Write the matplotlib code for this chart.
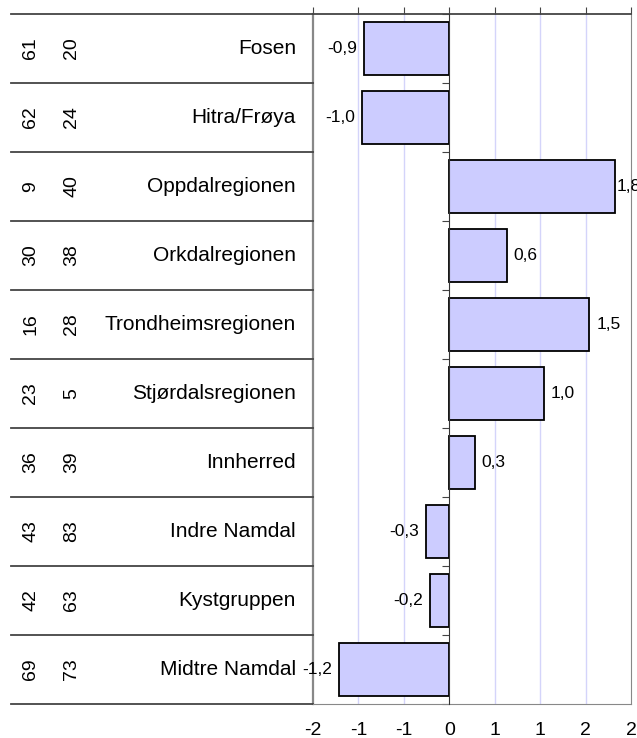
import matplotlib
matplotlib.use("Agg")
import matplotlib.pyplot as plt

plt.rcParams['font.family'] = ['Liberation Sans', 'DejaVu Sans']

# Data
regioner = ["Fosen", "Hitra/Frøya", "Oppdalregionen", "Orkdalregionen",
            "Trondheimsregionen", "Stjørdalsregionen", "Innherred",
            "Indre Namdal", "Kystgruppen", "Midtre Namdal"]
kol1 = [61, 62, 9, 30, 16, 23, 36, 43, 42, 69]
kol2 = [20, 24, 40, 38, 28, 5, 39, 83, 63, 73]
verdier = [-0.94, -0.96, 1.82, 0.63, 1.54, 1.04, 0.28, -0.26, -0.21, -1.21]
xticks = [-1.5, -1.0, -0.5, 0.0, 0.5, 1.0, 1.5, 2.0]
xticklabels = ["-2", "-1", "-1", "0", "1", "1", "2", "2"]

W, H = 637, 738
fig = plt.figure(figsize=(W / 100, H / 100), dpi=100)
ax_l, ax_r, ax_t, ax_b = 313, 631, 14, 704
ax = fig.add_axes([ax_l / W, 1 - ax_b / H, (ax_r - ax_l) / W, (ax_b - ax_t) / H])

y = list(range(len(regioner)))
ax.set_xlim(-1.5, 2.0)
ax.set_ylim(len(regioner) - 0.5, -0.5)

# gridlines
for xv in xticks[1:-1]:
    if xv != 0:
        ax.axvline(xv, color="#d4d4fa", lw=1, zorder=0)

ax.barh(y, verdier, height=0.78, color="#ccccff", edgecolor="black", lw=1.3, zorder=2)

for yi, v in zip(y, verdier):
    txt = f"{v:.1f}".replace(".", ",")
    if v >= 0:
        off = 1.5 if v > 1.7 else 5  # label squeezed near the right edge
        ax.annotate(txt, (v, yi), xytext=(off, 0), textcoords="offset points",
                    ha="left", va="center", fontsize=12.5, annotation_clip=False)
    else:
        ax.annotate(txt, (v, yi), xytext=(-5, 0), textcoords="offset points",
                    ha="right", va="center", fontsize=12.5, annotation_clip=False)

# axes styling
ax.spines['left'].set_position(('data', 0))
ax.spines['left'].set_color("#333333")
ax.spines['left'].set_zorder(3)
ax.spines['right'].set_color("#888888")
ax.spines['bottom'].set_color("#888888")
ax.spines['top'].set_color("#444444")
ax.spines['top'].set_linewidth(1.3)
ax.axvline(-1.5, color="#888888", lw=1.6, clip_on=False)

ax.set_yticks([i - 0.5 for i in range(len(regioner) + 1)])
ax.set_yticklabels([])
ax.tick_params(axis='y', direction='out', length=5, color="#444444")

ax.set_xticks(xticks)
ax.set_xticklabels(xticklabels, fontsize=14)
ax.tick_params(axis='x', top=True, bottom=False, labelbottom=True,
               direction='out', length=5, color="#444444", pad=8)

# table to the left
tw = ax_r - ax_l
x0 = (11 - ax_l) / tw
for i in range(len(regioner) + 1):
    ax.plot([x0, 0], [i - 0.5, i - 0.5], color="#444444", lw=1.3,
            transform=ax.get_yaxis_transform(), clip_on=False)

for yi, navn, a, b in zip(y, regioner, kol1, kol2):
    ax.text((296 - ax_l) / tw, yi, navn, transform=ax.get_yaxis_transform(),
            ha="right", va="center", fontsize=15)
    ax.text((31 - ax_l) / tw, yi, str(a), transform=ax.get_yaxis_transform(),
            ha="center", va="center", rotation=90, fontsize=14)
    ax.text((72 - ax_l) / tw, yi, str(b), transform=ax.get_yaxis_transform(),
            ha="center", va="center", rotation=90, fontsize=14)

fig.savefig("out.png", dpi=100)
